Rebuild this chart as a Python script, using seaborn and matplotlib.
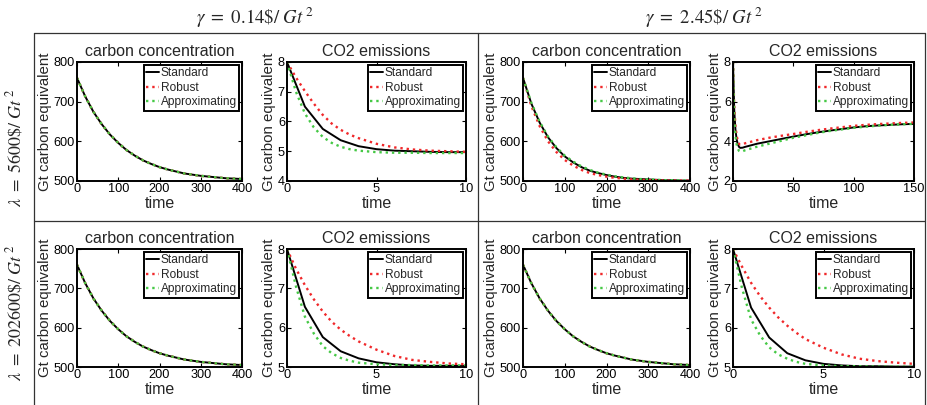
import matplotlib
matplotlib.use("Agg")
import matplotlib.pyplot as plt
from matplotlib.lines import Line2D
import seaborn as sns

# ---- data ----
t_conc = [0, 20, 40, 60, 80, 100, 120, 140, 160, 180, 200, 220, 240, 260, 280, 300, 320, 340, 360, 380, 400]
conc_slow = [760, 713, 674, 643, 617, 596, 578, 564, 552, 543, 535, 529, 524, 519, 516, 513, 511, 509, 507, 506, 505]
conc_fast_std = [760, 695, 647, 610, 583, 562, 547, 535, 526, 520, 515, 511, 508, 506, 505, 504, 503, 502, 502, 501, 501]
conc_fast_rob = [760, 689, 638, 600, 573, 553, 539, 528, 520, 515, 511, 508, 506, 504, 503, 502, 502, 501, 501, 501, 501]
conc_fast_apx = [760, 697, 649, 612, 585, 564, 549, 537, 528, 521, 516, 512, 509, 507, 505, 504, 503, 502, 502, 501, 501]

t_int = [0, 1, 2, 3, 4, 5, 6, 7, 8, 9, 10]
t_half = [0, 0.5, 1, 1.5, 2, 2.5, 3, 3.5, 4, 5, 6, 7, 8, 9, 10]

# gamma = 0.14, lambda = 5600
em11_std = [8, 6.5, 5.75, 5.37, 5.17, 5.07, 5.02, 5.0, 4.98, 4.97, 4.97]
em11_rob = [8, 7.48, 7.02, 6.6, 6.22, 5.93, 5.72, 5.56, 5.44, 5.25, 5.13, 5.06, 5.02, 5.0, 4.98]
em11_apx = [8, 7.0, 6.27, 5.8, 5.48, 5.28, 5.15, 5.07, 5.02, 4.97, 4.95, 4.95, 4.94, 4.94, 4.94]

# gamma = 2.45, lambda = 5600
t_long = [0, 1, 2, 3, 4, 5, 6, 8, 10, 15, 20, 30, 40, 50, 60, 70, 80, 90, 100, 110, 120, 130, 140, 150]
em12_std = [8.0, 5.6, 4.6, 4.1, 3.85, 3.72, 3.67, 3.68, 3.72, 3.8, 3.88, 4.0, 4.12, 4.24, 4.35, 4.45, 4.54, 4.62, 4.7, 4.76, 4.8, 4.83, 4.86, 4.88]
em12_rob = [8.0, 5.8, 4.8, 4.3, 4.0, 3.88, 3.84, 3.85, 3.9, 3.98, 4.06, 4.18, 4.28, 4.37, 4.47, 4.56, 4.64, 4.71, 4.78, 4.83, 4.87, 4.9, 4.93, 4.95]
em12_apx = [8.0, 5.3, 4.3, 3.85, 3.62, 3.52, 3.49, 3.5, 3.55, 3.64, 3.73, 3.88, 4.03, 4.18, 4.3, 4.42, 4.52, 4.6, 4.68, 4.74, 4.79, 4.83, 4.86, 4.88]

# gamma = 0.14, lambda = 202600
em21_std = [8, 6.53, 5.76, 5.4, 5.22, 5.12, 5.07, 5.04, 5.03, 5.03, 5.03]
em21_rob = [8, 7.5, 7.08, 6.72, 6.41, 6.15, 5.95, 5.79, 5.65, 5.44, 5.28, 5.18, 5.13, 5.09, 5.07]
em21_apx = [8, 7.05, 6.28, 5.85, 5.53, 5.35, 5.23, 5.16, 5.11, 5.07, 5.05, 5.05, 5.04, 5.04, 5.04]

# gamma = 2.45, lambda = 202600
em22_std = [8, 6.51, 5.75, 5.35, 5.17, 5.08, 5.04, 5.02, 5.02, 5.01, 5.01]
em22_rob = [8, 7.55, 7.14, 6.8, 6.51, 6.26, 6.05, 5.87, 5.71, 5.49, 5.32, 5.21, 5.15, 5.11, 5.08]
em22_apx = [8, 7.0, 6.21, 5.8, 5.5, 5.32, 5.21, 5.13, 5.08, 5.04, 5.02, 5.02, 5.01, 5.01, 5.01]

col_titles = [r"$\gamma\ =\ 0.14\$/\ Gt^{\,2}$", r"$\gamma\ =\ 2.45\$/\ Gt^{\,2}$"]
row_titles = [r"$\lambda\ =\ 5600\$/\ Gt^{\,2}$", r"$\lambda\ =\ 202600\$/\ Gt^{\,2}$"]
series_names = ["Standard", "Robust", "Approximating"]

# ---- style ----
sns.set_theme(style="ticks")
plt.rcParams["font.family"] = ["Liberation Sans", "DejaVu Sans"]
plt.rcParams["mathtext.fontset"] = "stix"
plt.rcParams["xtick.direction"] = "in"
plt.rcParams["ytick.direction"] = "in"
plt.rcParams["xtick.top"] = True
plt.rcParams["ytick.right"] = True
plt.rcParams["xtick.major.size"] = 3
plt.rcParams["ytick.major.size"] = 3
plt.rcParams["xtick.major.pad"] = 1.5
plt.rcParams["ytick.major.pad"] = 1.5
plt.rcParams["axes.linewidth"] = 1.4
plt.rcParams["axes.edgecolor"] = "black"

RED = "#f0282a"
GREEN = "#45c845"

W, H = 927, 405
fig = plt.figure(figsize=(W / 100, H / 100), dpi=100)

def px_axes(x0, x1, y0, y1):
    return fig.add_axes([x0 / W, 1 - y1 / H, (x1 - x0) / W, (y1 - y0) / H])

def draw(ax, t_std, std, t_other, rob, apx, title, xlim, ylim, xt, yt):
    sns.lineplot(x=t_std, y=std, ax=ax, color="black", lw=1.4, label=series_names[0])
    sns.lineplot(x=t_other, y=rob, ax=ax, color=RED, lw=1.7, linestyle=":", label=series_names[1])
    sns.lineplot(x=t_other, y=apx, ax=ax, color=GREEN, lw=1.7, linestyle=":", label=series_names[2])
    ax.set_xlim(*xlim)
    ax.set_ylim(*ylim)
    ax.set_xticks(xt)
    ax.set_yticks(yt)
    ax.tick_params(labelsize=9.2, width=0.8, colors="black")
    ax.set_title(title, fontsize=11.5, pad=4)
    ax.set_xlabel("time", fontsize=11.5, labelpad=0.5)
    ax.set_ylabel("Gt carbon equivalent", fontsize=10.8, labelpad=1)
    leg = ax.legend(loc="upper right", fontsize=8.6, frameon=True, fancybox=False,
                    framealpha=1, edgecolor="black", handlelength=1.1, handletextpad=0.1,
                    labelspacing=0.2, borderpad=0.2, borderaxespad=0.25)
    leg.get_frame().set_linewidth(1.4)

rows_y = [(62, 181), (249, 367)]
cols_x = [((77, 242), (287, 466)), ((523, 690), (733, 914))]

conc_sets = {
    (0, 0): (conc_slow, conc_slow, conc_slow),
    (0, 1): (conc_fast_std, conc_fast_rob, conc_fast_apx),
    (1, 0): (conc_slow, conc_slow, conc_slow),
    (1, 1): (conc_slow, conc_slow, conc_slow),
}

for r in range(2):
    y0, y1 = rows_y[r]
    for c in range(2):
        (cx0, cx1), (ex0, ex1) = cols_x[c]
        ax1 = px_axes(cx0, cx1, y0, y1)
        s, rb, ap = conc_sets[(r, c)]
        draw(ax1, t_conc, s, t_conc, rb, ap, "carbon concentration",
             (0, 400), (500, 800), [0, 100, 200, 300, 400], [500, 600, 700, 800])
        ax2 = px_axes(ex0, ex1, y0, y1)
        if (r, c) == (0, 0):
            draw(ax2, t_int, em11_std, t_half, em11_rob, em11_apx, "CO2 emissions",
                 (0, 10), (4, 8), [0, 5, 10], [4, 5, 6, 7, 8])
        elif (r, c) == (0, 1):
            draw(ax2, t_long, em12_std, t_long, em12_rob, em12_apx, "CO2 emissions",
                 (0, 150), (2, 8), [0, 50, 100, 150], [2, 4, 6, 8])
        elif (r, c) == (1, 0):
            draw(ax2, t_int, em21_std, t_half, em21_rob, em21_apx, "CO2 emissions",
                 (0, 10), (5, 8), [0, 5, 10], [5, 6, 7, 8])
        else:
            draw(ax2, t_int, em22_std, t_half, em22_rob, em22_apx, "CO2 emissions",
                 (0, 10), (5, 8), [0, 5, 10], [5, 6, 7, 8])

# panel borders
def fline(xs, ys):
    fig.add_artist(Line2D([x / W for x in xs], [1 - y / H for y in ys],
                          color="#333333", lw=0.9, transform=fig.transFigure))

fline([34, 925], [33, 33])
fline([34, 925], [221, 221])
fline([34, 34], [33, 405])
fline([478, 478], [33, 405])
fline([925, 925], [33, 405])

# column and row headers
fig.text(255 / W, 1 - 18 / H, col_titles[0], ha="center", va="center", fontsize=13.5)
fig.text(704 / W, 1 - 18 / H, col_titles[1], ha="center", va="center", fontsize=13.5)
fig.text(15 / W, 1 - 148 / H, row_titles[0], ha="center", va="center", rotation=90, fontsize=13)
fig.text(15 / W, 1 - 313 / H, row_titles[1], ha="center", va="center", rotation=90, fontsize=13)

fig.savefig("out.png", dpi=100)
